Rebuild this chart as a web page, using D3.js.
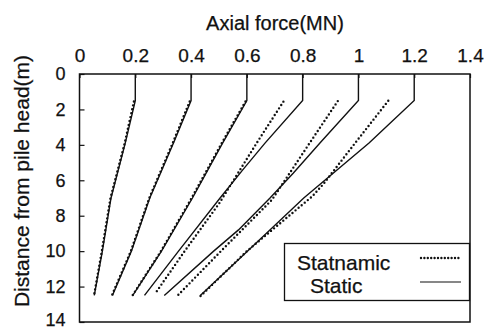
<!DOCTYPE html>
<html>
<head>
<meta charset="utf-8">
<script src="https://cdn.jsdelivr.net/npm/d3@7"></script>
<style>
  body { margin: 0; background: #fff; }
  svg text { font-family: 'Liberation Sans', Arial, Helvetica, sans-serif; fill: #111; stroke: #111; stroke-width: 0.25px; }
</style>
</head>
<body>
<div id="chart"></div>
<script>
// depth (m) below pile head, axial force (MN)
const xTicks = [0, 0.2, 0.4, 0.6, 0.8, 1, 1.2, 1.4];
const yTicks = [0, 2, 4, 6, 8, 10, 12, 14];

const staticDepths = [0, 1.5, 3.9, 7.0, 10.0, 12.5];
const staticForces = [
  [0.2, 0.2, 0.164, 0.113, 0.082, 0.053],
  [0.4, 0.4, 0.337, 0.252, 0.186, 0.118],
  [0.6, 0.6, 0.513, 0.405, 0.294, 0.191],
  [0.8, 0.8, 0.665, 0.504, 0.355, 0.233],
  [1.0, 1.0, 0.862, 0.683, 0.481, 0.304],
  [1.2, 1.2, 1.038, 0.804, 0.602, 0.433],
];
// extra knee points read for the static curves 4-5
const staticExtra = [[], [], [], [[5.4, 0.586]], [[5.6, 0.766], [8.8, 0.57]], []];

const statnamicDepths = [
  [1.55, 3.9, 7.0, 10.0, 12.5],
  [1.55, 3.9, 7.0, 10.0, 12.5],
  [1.55, 3.9, 7.0, 10.0, 12.5],
  [1.56, 3.9, 7.3, 10.0, 12.4],
  [1.53, 3.9, 5.3, 7.1, 10.0, 12.6],
  [1.51, 3.9, 6.2, 6.9, 10.0, 12.55],
];
const statnamicForces = [
  [0.195, 0.162, 0.111, 0.08, 0.052],
  [0.395, 0.334, 0.25, 0.184, 0.116],
  [0.595, 0.51, 0.402, 0.292, 0.19],
  [0.731, 0.635, 0.501, 0.377, 0.271],
  [0.926, 0.825, 0.766, 0.69, 0.507, 0.346],
  [1.107, 0.988, 0.875, 0.835, 0.6, 0.433],
];

const legendLabels = ['Statnamic', 'Static'];

const width = 490,
  height = 331;

const svg = d3.select('#chart').append('svg').attr('width', width).attr('height', height);

const x = d3.scaleLinear().domain([0, 1.4]).range([79.5, 470]);
const y = d3.scaleLinear().domain([0, 14]).range([74, 322]);

const line = d3
  .line()
  .x((d) => x(d[1]))
  .y((d) => y(d[0]));

const staticSeries = staticForces.map((row, i) =>
  staticDepths
    .map((dep, j) => [dep, row[j]])
    .concat(staticExtra[i])
    .sort((a, b) => a[0] - b[0])
);
const statnamicSeries = statnamicForces.map((row, i) => row.map((f, j) => [statnamicDepths[i][j], f]));

svg
  .append('g')
  .selectAll('path')
  .data(staticSeries)
  .join('path')
  .attr('d', line)
  .attr('fill', 'none')
  .attr('stroke', '#111')
  .attr('stroke-width', 1.4);

svg
  .append('g')
  .selectAll('path')
  .data(statnamicSeries)
  .join('path')
  .attr('d', line)
  .attr('fill', 'none')
  .attr('stroke', '#111')
  .attr('stroke-width', 2.4)
  .attr('stroke-linecap', 'round')
  .attr('stroke-dasharray', '0,4');

// frame
svg
  .append('rect')
  .attr('x', x(0))
  .attr('y', y(0))
  .attr('width', x(1.4) - x(0))
  .attr('height', y(14) - y(0))
  .attr('fill', 'none')
  .attr('stroke', '#111')
  .attr('stroke-width', 1.5);

// axes, ticks pointing inward
const xAxis = svg
  .append('g')
  .attr('transform', `translate(0,${y(0)})`)
  .call(d3.axisTop(x).tickValues(xTicks).tickSize(-4).tickPadding(12).tickFormat(d3.format('')));
xAxis.select('.domain').remove();
xAxis.selectAll('text').attr('font-size', 19).attr('font-family', null);

const yAxis = svg
  .append('g')
  .attr('transform', `translate(${x(0)},0)`)
  .call(d3.axisLeft(y).tickValues(yTicks).tickSize(-5).tickPadding(14));
yAxis.select('.domain').remove();
yAxis.selectAll('text').attr('font-size', 18).attr('font-family', null);
yAxis.selectAll('.tick').filter((d) => d === 14).select('text').attr('dy', '0.2em');
svg.selectAll('.tick line').attr('stroke', '#111').attr('stroke-width', 1.2);

svg
  .append('text')
  .attr('x', 275)
  .attr('y', 30)
  .attr('text-anchor', 'middle')
  .attr('font-size', 20)
  .text('Axial force(MN)');

svg
  .append('text')
  .attr('transform', 'translate(29,181) rotate(-90)')
  .attr('text-anchor', 'middle')
  .attr('font-size', 21)
  .text('Distance from pile head(m)');

// legend
const legend = svg.append('g');
legend
  .append('rect')
  .attr('x', 284.5)
  .attr('y', 243.5)
  .attr('width', 185)
  .attr('height', 57)
  .attr('fill', '#fff')
  .attr('stroke', '#111')
  .attr('stroke-width', 1.3);

legend
  .selectAll('text')
  .data(legendLabels)
  .join('text')
  .attr('x', (d, i) => (i === 0 ? 297 : 310))
  .attr('y', (d, i) => (i === 0 ? 270 : 293))
  .attr('font-size', 21)
  .text((d) => d);

legend
  .append('line')
  .attr('x1', 421)
  .attr('x2', 461)
  .attr('y1', 258)
  .attr('y2', 258)
  .attr('stroke', '#111')
  .attr('stroke-width', 2.4)
  .attr('stroke-linecap', 'round')
  .attr('stroke-dasharray', '0,3.4');

legend
  .append('line')
  .attr('x1', 420)
  .attr('x2', 461)
  .attr('y1', 282)
  .attr('y2', 282)
  .attr('stroke', '#111')
  .attr('stroke-width', 1.2);
</script>
</body>
</html>
